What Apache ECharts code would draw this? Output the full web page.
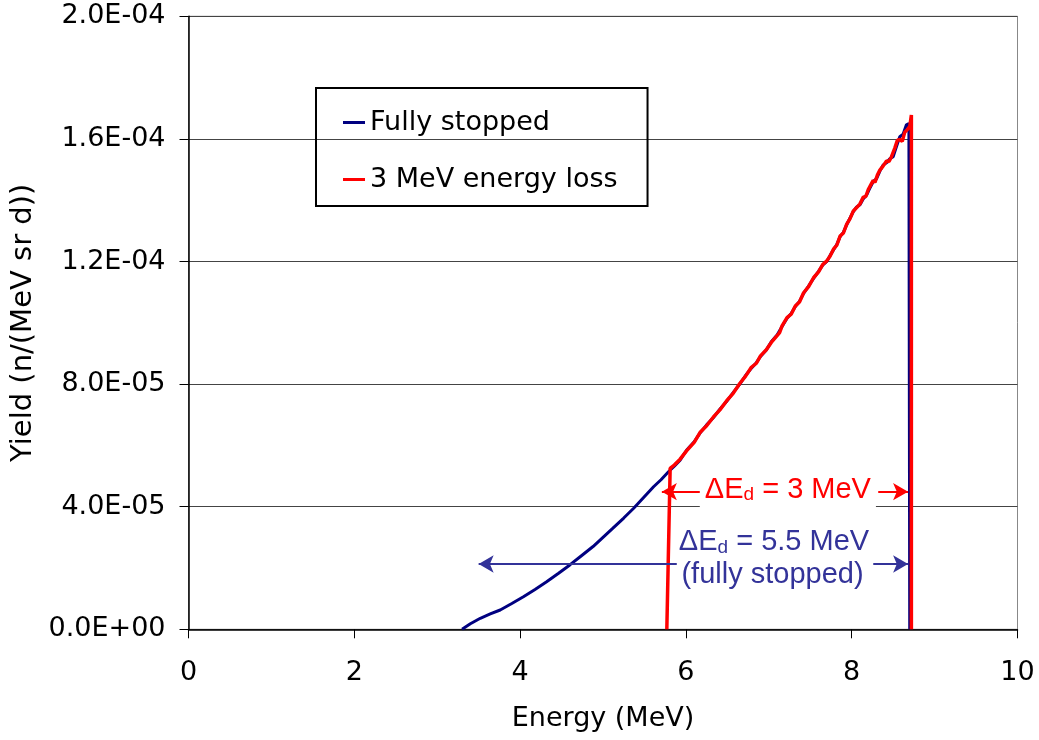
<!DOCTYPE html>
<html><head><meta charset="utf-8">
<script src="https://cdn.jsdelivr.net/npm/echarts@6/dist/echarts.min.js"></script>
<style>html,body{margin:0;padding:0;background:#fff}#c{width:1039px;height:740px}</style>
</head><body><div id="c"></div>
<script>
// Energy (MeV) and yield values
const fullyStoppedE = [3.30,3.40,3.52,3.64,3.76,3.90,4.04,4.18,4.32,4.46,4.60,4.74,4.88,5.00,5.12,5.25,5.37,5.49,5.61,5.70,5.79,5.86,5.93,6.01,6.10,6.17,6.25,6.33,6.41,6.49,6.57,6.65,6.72,6.79,6.85,6.90,6.97,7.03,7.10,7.16,7.22,7.27,7.32,7.37,7.42,7.48,7.54,7.60,7.65,7.70,7.74,7.78,7.82,7.86,7.90,7.94,7.98,8.02,8.06,8.10,8.14,8.18,8.22,8.26,8.30,8.34,8.38,8.42,8.46,8.50,8.54,8.58,8.62,8.66,8.69,8.70];
const fullyStoppedY = [0,0.18e-5,0.36e-5,0.50e-5,0.63e-5,0.84e-5,1.06e-5,1.30e-5,1.55e-5,1.82e-5,2.10e-5,2.40e-5,2.70e-5,3.00e-5,3.30e-5,3.63e-5,3.95e-5,4.30e-5,4.65e-5,4.88e-5,5.14e-5,5.32e-5,5.52e-5,5.85e-5,6.12e-5,6.40e-5,6.67e-5,6.90e-5,7.18e-5,7.43e-5,7.72e-5,8.00e-5,8.28e-5,8.52e-5,8.70e-5,8.90e-5,9.11e-5,9.38e-5,9.60e-5,9.88e-5,10.15e-5,10.30e-5,10.53e-5,10.70e-5,10.96e-5,11.20e-5,11.45e-5,11.68e-5,11.88e-5,12.00e-5,12.20e-5,12.38e-5,12.55e-5,12.81e-5,12.95e-5,13.20e-5,13.42e-5,13.63e-5,13.78e-5,13.85e-5,14.05e-5,14.17e-5,14.40e-5,14.61e-5,14.70e-5,14.95e-5,15.15e-5,15.22e-5,15.35e-5,15.42e-5,15.75e-5,16.07e-5,16.15e-5,16.46e-5,16.50e-5,0];
const lossE = [5.77,5.81,5.86,5.93,6.01,6.10,6.17,6.25,6.33,6.41,6.49,6.57,6.65,6.72,6.79,6.85,6.90,6.97,7.03,7.10,7.13,7.16,7.22,7.27,7.32,7.37,7.42,7.48,7.54,7.60,7.65,7.70,7.74,7.78,7.82,7.86,7.90,7.94,7.98,8.02,8.06,8.10,8.14,8.17,8.20,8.24,8.26,8.28,8.31,8.34,8.38,8.42,8.45,8.48,8.52,8.55,8.58,8.61,8.64,8.67,8.70,8.72,8.72];
const lossY = [0,5.25e-5,5.36e-5,5.55e-5,5.83e-5,6.10e-5,6.42e-5,6.64e-5,6.92e-5,7.16e-5,7.45e-5,7.70e-5,8.02e-5,8.26e-5,8.55e-5,8.68e-5,8.92e-5,9.12e-5,9.36e-5,9.58e-5,9.68e-5,9.90e-5,10.17e-5,10.28e-5,10.55e-5,10.68e-5,10.98e-5,11.18e-5,11.47e-5,11.66e-5,11.90e-5,12.02e-5,12.18e-5,12.40e-5,12.53e-5,12.83e-5,12.93e-5,13.22e-5,13.40e-5,13.65e-5,13.76e-5,13.88e-5,14.10e-5,14.12e-5,14.35e-5,14.55e-5,14.65e-5,14.58e-5,14.82e-5,14.98e-5,15.12e-5,15.28e-5,15.26e-5,15.42e-5,15.70e-5,15.95e-5,15.98e-5,15.92e-5,16.22e-5,16.30e-5,16.40e-5,16.78e-5,0];
const seriesNames = ['Fully stopped','3 MeV energy loss'];
const yTickLabels = ['0.0E+00','4.0E-05','8.0E-05','1.2E-04','1.6E-04','2.0E-04'];
// annotation anchors in data units [E, yield]
const redArrowLeft = [[6.21,4.49e-5],[5.71,4.49e-5]];
const redArrowRight = [[8.32,4.49e-5],[8.68,4.49e-5]];
const blueArrowLeft = [[5.89,2.13e-5],[3.50,2.13e-5]];
const blueArrowRight = [[8.26,2.13e-5],[8.68,2.13e-5]];
const redLabelAt = [7.23,4.64e-5];
const blueLabel1At = [7.063,2.914e-5];
const blueLabel2At = [7.045,1.837e-5];

const zip = (a,b)=>a.map((v,i)=>[v,b[i]]);
const AX = 'DejaVu Sans', AN = 'Liberation Sans';
const BLUE='#000080', RED='#ff0000', ABLUE='#333399';

function arrowML(pairs,color){
  return {silent:true,animation:false,symbol:['none','arrow'],symbolSize:[13,15],
    label:{show:false},lineStyle:{color:color,width:2,type:'solid'},
    emphasis:{disabled:true},
    data:pairs.map(p=>[{coord:p[0]},{coord:p[1]}])};
}
function textMP(at,fmt,color,bg){
  return {coord:at,symbol:'rect',symbolSize:[1,1],itemStyle:{color:'rgba(0,0,0,0)'},
    label:{show:true,position:'inside',formatter:fmt,backgroundColor:bg,padding:bg?[8,5,8,5]:0,
      rich:{a:{fontFamily:AN,fontSize:29,color:color,lineHeight:34,verticalAlign:'bottom'},
            s:{fontFamily:AN,fontSize:19,color:color,lineHeight:22,verticalAlign:'bottom'}}}};
}

const chart = echarts.init(document.getElementById('c'),null,{renderer:'canvas'});
chart.setOption({
  animation:false,
  backgroundColor:'#fff',
  grid:{left:188.5,right:21.5,top:16.3,bottom:110.7,show:true,borderColor:'#888',borderWidth:1,containLabel:false},
  legend:{data:seriesNames,orient:'vertical',left:316,top:88,borderColor:'#000',borderWidth:2,
    padding:[21,30,13,27],itemGap:30,itemWidth:22,itemHeight:3,icon:'rect',
    textStyle:{fontFamily:AX,fontSize:27,color:'#000'},selectedMode:false},
  xAxis:{type:'value',min:0,max:10,interval:2,
    name:'Energy (MeV)',nameLocation:'middle',nameGap:76,
    nameTextStyle:{fontFamily:AX,fontSize:27,color:'#000'},
    axisLine:{lineStyle:{color:'#000',width:1.5}},
    axisTick:{show:true,length:9,lineStyle:{color:'#000'}},
    axisLabel:{fontFamily:AX,fontSize:27,color:'#000',margin:30},
    splitLine:{show:false}},
  yAxis:{type:'value',min:0,max:2e-4,interval:4e-5,
    name:'Yield (n/(MeV sr d))',nameLocation:'middle',nameGap:150,
    nameTextStyle:{fontFamily:AX,fontSize:29,color:'#000'},
    axisLine:{show:true,lineStyle:{color:'#000',width:1.5}},
    axisTick:{show:true,length:9,lineStyle:{color:'#000'}},
    axisLabel:{fontFamily:AX,fontSize:27,color:'#000',margin:23,
      formatter:(v)=>yTickLabels[Math.round(v/4e-5)]},
    splitLine:{show:true,lineStyle:{color:'#444',width:1}}},
  series:[
    {name:seriesNames[0],type:'line',data:zip(fullyStoppedE,fullyStoppedY),symbol:'none',
     lineStyle:{color:BLUE,width:3},itemStyle:{color:BLUE},z:2,
     markLine:arrowML([blueArrowLeft,blueArrowRight],ABLUE),
     markPoint:{silent:true,animation:false,data:[
       textMP(blueLabel1At,'{a|ΔE}{s|d}{a| = 5.5 MeV}',ABLUE,null),
       textMP(blueLabel2At,'{a|(fully stopped)}',ABLUE,null)]}},
    {name:seriesNames[1],type:'line',data:zip(lossE,lossY),symbol:'none',
     lineStyle:{color:RED,width:3.5},itemStyle:{color:RED},z:3,
     markLine:arrowML([redArrowLeft,redArrowRight],RED),
     markPoint:{silent:true,animation:false,data:[
       textMP(redLabelAt,'{a|ΔE}{s|d}{a| = 3 MeV}',RED,'#fff')]}}
  ]
});
</script></body></html>
